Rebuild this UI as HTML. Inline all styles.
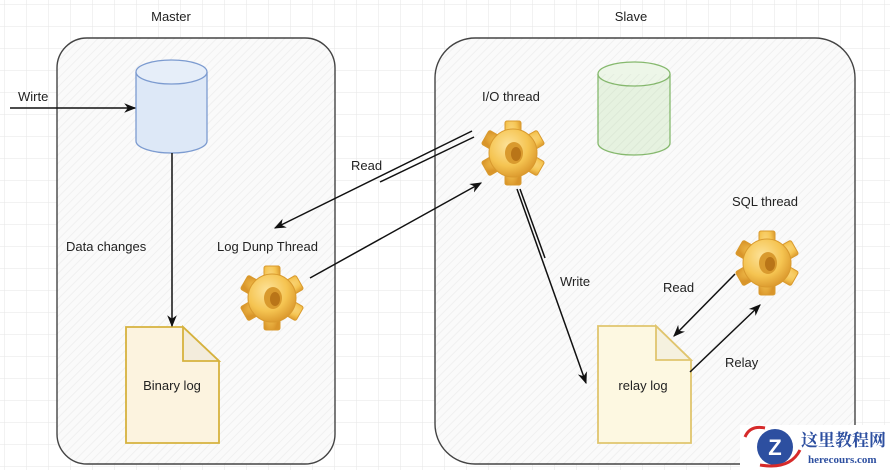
<!DOCTYPE html>
<html><head><meta charset="utf-8"><style>
body{margin:0;background:#fff}
svg{display:block;font-family:"Liberation Sans",sans-serif}
</style></head><body>
<svg width="890" height="470" viewBox="0 0 890 470" xmlns="http://www.w3.org/2000/svg">
<defs>
<pattern id="grid" width="22" height="22" patternUnits="userSpaceOnUse" x="4" y="4">
<path d="M22 0H0V22" fill="none" stroke="#e6e6e6" stroke-width="1"/>
</pattern>
<pattern id="hatch" width="6" height="6" patternUnits="userSpaceOnUse" patternTransform="rotate(45)">
<line x1="0" y1="0" x2="0" y2="6" stroke="#000" stroke-opacity="0.04" stroke-width="2"/>
</pattern>
<marker id="ar" viewBox="0 0 10 10" refX="9" refY="5" markerWidth="8" markerHeight="8" orient="auto-start-reverse">
<path d="M0 1L10 5L0 9L3 5z" fill="#111"/>
</marker>
<radialGradient id="gg" cx="40%" cy="35%" r="70%">
<stop offset="0" stop-color="#fde39a"/><stop offset="0.6" stop-color="#f5c451"/><stop offset="1" stop-color="#d9952a"/>
</radialGradient>
<g id="gear">
<g fill="url(#gg)" stroke="#d99a2e" stroke-width="1">
<rect x="-8" y="-32" width="16" height="64" rx="2"/>
<rect x="-8" y="-32" width="16" height="64" rx="2" transform="rotate(60)"/>
<rect x="-8" y="-32" width="16" height="64" rx="2" transform="rotate(120)"/>
<circle r="24"/>
</g>
<ellipse cx="1" cy="0" rx="9" ry="11" fill="#d99a2e"/>
<ellipse cx="3" cy="1" rx="5" ry="7" fill="#b97518"/>
</g>
</defs>
<rect width="890" height="470" fill="url(#grid)"/>

<rect x="57" y="38" width="278" height="426" rx="30" fill="#fafafa" stroke="#444" stroke-width="1.4"/>
<rect x="57" y="38" width="278" height="426" rx="30" fill="url(#hatch)"/>
<rect x="435" y="38" width="420" height="426" rx="40" fill="#fafafa" stroke="#444" stroke-width="1.4"/>
<rect x="435" y="38" width="420" height="426" rx="40" fill="url(#hatch)"/>

<text x="171" y="21" font-size="13" text-anchor="middle" fill="#222">Master</text>
<text x="631" y="21" font-size="13" text-anchor="middle" fill="#222">Slave</text>

<path d="M136 72V141A35.5 12 0 0 0 207 141V72" fill="#dde8f7" stroke="#7c9bd0" stroke-width="1.3"/>
<ellipse cx="171.5" cy="72" rx="35.5" ry="12" fill="#e6eef9" stroke="#7c9bd0" stroke-width="1.3"/>
<path d="M598 74V143A36 12 0 0 0 670 143V74" fill="#e6f2e0" stroke="#86b96e" stroke-width="1.3"/>
<ellipse cx="634" cy="74" rx="36" ry="12" fill="#edf6e8" stroke="#86b96e" stroke-width="1.3"/>
<path d="M598 74V143A36 12 0 0 0 670 143V74" fill="url(#hatch)"/>

<path d="M126 327H183L219 361V443H126Z" fill="#fcf3df" stroke="#d6b23e" stroke-width="1.8"/>
<path d="M183 327V361H219Z" fill="#f3ecdc" stroke="#d6b23e" stroke-width="1.8"/>
<text x="172" y="390" font-size="13" text-anchor="middle" fill="#222">Binary log</text>
<path d="M598 326H656L691 360V443H598Z" fill="#fdf8e1" stroke="#e0c56e" stroke-width="1.8"/>
<path d="M656 326V360H691Z" fill="#f5f1df" stroke="#e0c56e" stroke-width="1.8"/>
<text x="643" y="390" font-size="13" text-anchor="middle" fill="#222">relay log</text>

<use href="#gear" transform="translate(272,298)"/>
<use href="#gear" transform="translate(513,153)"/>
<use href="#gear" transform="translate(767,263)"/>

<g font-size="13" fill="#222">
<text x="18" y="101">Wirte</text>
<text x="351" y="170">Read</text>
<text x="66" y="251">Data changes</text>
<text x="217" y="251">Log Dunp Thread</text>
<text x="482" y="101">I/O thread</text>
<text x="732" y="206">SQL thread</text>
<text x="560" y="286">Write</text>
<text x="663" y="292">Read</text>
<text x="725" y="367">Relay</text>
</g>

<g stroke="#111" stroke-width="1.5" fill="none">
<line x1="10" y1="108" x2="135" y2="108" marker-end="url(#ar)"/>
<line x1="172" y1="153" x2="172" y2="326" marker-end="url(#ar)"/>
<line x1="472" y1="131" x2="275" y2="228" marker-end="url(#ar)"/>
<line x1="474" y1="137" x2="380" y2="182"/>
<line x1="310" y1="278" x2="481" y2="183" marker-end="url(#ar)"/>
<line x1="517" y1="189" x2="586" y2="383" marker-end="url(#ar)"/>
<line x1="520" y1="189" x2="545" y2="258"/>
<line x1="735" y1="274" x2="674" y2="336" marker-end="url(#ar)"/>
<line x1="690" y1="372" x2="760" y2="305" marker-end="url(#ar)"/>
</g>

<rect x="740" y="425" width="150" height="45" fill="#fff"/>
<circle cx="775" cy="447" r="18" fill="#2d4fa0"/>
<path d="M745 437Q750 425 765 428" stroke="#d62a2a" stroke-width="3" fill="none"/>
<path d="M760 465Q790 470 800 450" stroke="#d62a2a" stroke-width="3" fill="none"/>
<text x="775" y="455" font-size="22" font-weight="bold" fill="#fff" text-anchor="middle">Z</text>
<text x="801" y="446" font-size="17" font-weight="bold" fill="#2d4fa0" font-family="'Noto Serif CJK SC','Noto Sans CJK SC',serif">这里教程网</text>
<text x="808" y="463" font-size="11" font-weight="bold" fill="#2d4fa0" font-family="'Liberation Serif',serif">herecours.com</text>
</svg>
</body></html>
